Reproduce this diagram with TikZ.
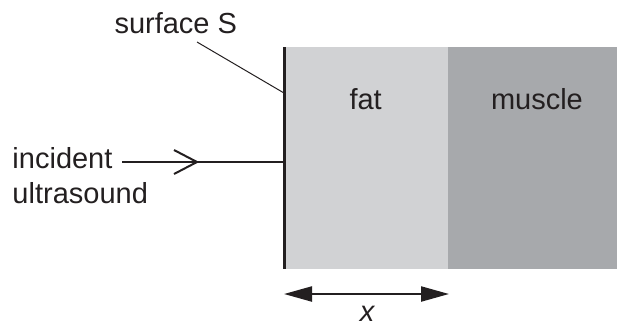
\documentclass[tikz,border=0pt]{standalone}
\usepackage{fontspec}
\setmainfont{Liberation Sans}
\usetikzlibrary{arrows.meta}
\definecolor{fatcol}{HTML}{D1D2D4}
\definecolor{muscol}{HTML}{A7A9AC}
\definecolor{ink}{HTML}{231F20}
\begin{document}
\begin{tikzpicture}[x=1pt,y=-1pt,
  lbl/.style={inner sep=0pt,outer sep=0pt,text=ink,font=\fontsize{29}{34}\selectfont},
  thinline/.style={draw=ink,line width=1pt},
  medline/.style={draw=ink,line width=2pt},
  dimarrow/.style={draw=ink,line width=2.2pt,{Triangle[length=28pt,width=15pt]}-{Triangle[length=28pt,width=15pt]}}]
\useasboundingbox (0,0) rectangle (617,325);
% regions
\path[fill=fatcol] (285,47) rectangle (448,269);
\path[fill=muscol] (448,47) rectangle (617,269);
% surface
\coordinate (stop) at (284.5,47);
\coordinate (sbot) at (284.5,269);
\draw[ink,line width=2.8pt] (stop) -- (sbot);
% labels
\node[lbl,anchor=base west] (surf) at (114.5,33.3) {surface S};
\node[lbl,anchor=base west] (fat) at (349.5,109.3) {fat};
\node[lbl,anchor=base west] (mus) at (491,109.3) {muscle};
\node[lbl,anchor=base west] (inc) at (12.5,168.3) {incident};
\node[lbl,anchor=base west] (ult) at (12.5,203) {ultrasound};
\node[lbl,anchor=base,font=\fontsize{29}{34}\selectfont\itshape] (xl) at (367,321) {x};
% leader
\coordinate (lead0) at (197,42);
\coordinate (lead1) at (284,93);
\draw[thinline] (lead0) -- (lead1);
% incident arrow
\coordinate (ia) at (122,162);
\coordinate (ib) at (284,162);
\coordinate (tip) at (197,162);
\draw[medline] (ia) -- (ib);
\draw[medline,line join=miter] (174,150) -- (tip) -- (174,174);
% dimension arrow
\coordinate (d0) at (284,294);
\coordinate (d1) at (449,294);
\draw[dimarrow] (d0) -- (d1);
\end{tikzpicture}
\end{document}
